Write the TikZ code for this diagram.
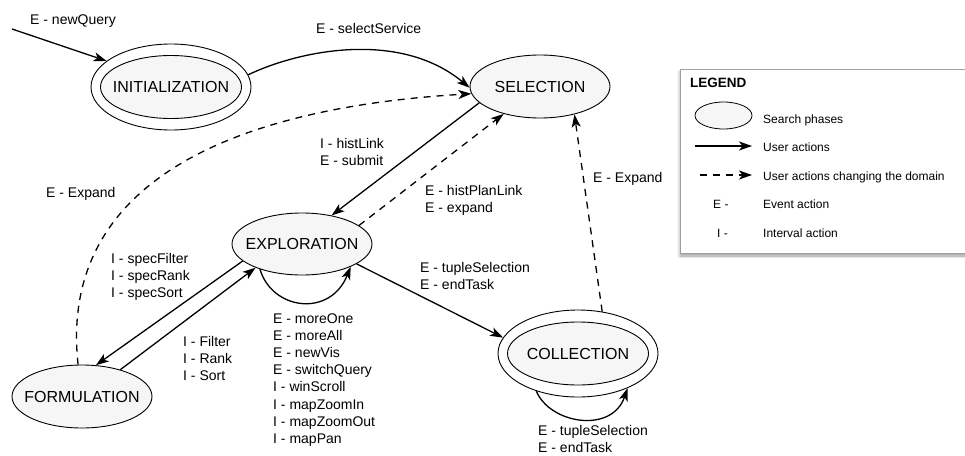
\documentclass[tikz,border=0pt]{standalone}
\usepackage{fontspec}
\setmainfont{Liberation Sans}
\usetikzlibrary{shapes.geometric,arrows.meta,shadows.blur}
\newcommand\mlines[1]{\begin{tabular}[t]{@{}l@{}}#1\end{tabular}}
\tikzset{
  phase/.style={ellipse, draw=black, line width=0.9pt, fill=gray!7, inner sep=0pt,
    font=\fontsize{16pt}{19pt}\selectfont},
  ring/.style={ellipse, draw=black, line width=0.9pt, fill=white, inner sep=0pt},
  act/.style={line width=1.3pt, -{Stealth[length=13pt,width=9pt,inset=3.5pt]}},
  domact/.style={act, dash pattern=on 7pt off 6pt},
  lbl/.style={anchor=base west, inner sep=0pt, font=\fontsize{14pt}{17.2pt}\selectfont},
  leg/.style={anchor=base west, inner sep=0pt, font=\fontsize{12pt}{14pt}\selectfont},
  legbox/.style={draw=gray!75, line width=0.8pt, fill=white,
    blur shadow={shadow xshift=0pt, shadow yshift=-3pt, shadow blur radius=3pt}},
}
\begin{document}
\begin{tikzpicture}[x=1pt,y=-1pt]
\useasboundingbox (0,0) rectangle (965,455);

% phases
\node[ring, minimum width=160pt, minimum height=86pt] (init) at (171,87) {};
\node[phase, minimum width=141pt, minimum height=63pt] (initin) at (171,87) {\makebox[0pt]{INITIALIZATION}};
\node[phase, minimum width=140pt, minimum height=63pt] (sel) at (540,86.5) {\makebox[0pt]{SELECTION}};
\node[phase, minimum width=140pt, minimum height=62pt] (explo) at (302,244) {\makebox[0pt]{EXPLORATION}};
\node[phase, minimum width=140pt, minimum height=63pt] (form) at (82,396.5) {\makebox[0pt]{FORMULATION}};
\node[ring, minimum width=160pt, minimum height=87pt] (coll) at (578,353.5) {};
\node[phase, minimum width=141pt, minimum height=63pt] (collin) at (578,353.5) {\makebox[0pt]{COLLECTION}};

% connectors
\coordinate (nqs) at (12,29);
\draw[act] (nqs) -- (init.158);
\draw[act] (init.9) .. controls (300,50) and (400,30) .. (sel.181);
\draw[domact] (form.97) .. controls (60,200) and (200,110) .. (sel.186);
\draw[act] (sel.195) -- (explo.44);
\draw[domact] (explo.18) -- (sel.217);
\draw[domact] (coll.60) -- (sel.321);
\draw[act] (explo.196) -- (form.66);
\draw[act] (form.35) -- (explo.207);
\draw[act] (explo.211) .. controls (272,310) and (330,318) .. (explo.335);
\draw[act] (explo.340) -- (coll.168);
\draw[act] (coll.222) .. controls (550,424) and (612,434) .. (coll.325);

% labels
\node[lbl] (lnq) at (30,24) {E - newQuery};
\node[lbl] (lss) at (316,33) {E - selectService};
\node[lbl] (lexp1) at (46,197) {E - Expand};
\node[lbl] (lhist) at (320,148) {\mlines{I - histLink\\E - submit}};
\node[lbl] (lhpl) at (425,195) {\mlines{E - histPlanLink\\E - expand}};
\node[lbl] (lexp2) at (593,182) {E - Expand};
\node[lbl] (lspec) at (111,263) {\mlines{I - specFilter\\I - specRank\\I - specSort}};
\node[lbl] (lfrs) at (183,346) {\mlines{I - Filter\\I - Rank\\I - Sort}};
\node[lbl] (lloop) at (273,323) {\mlines{E - moreOne\\E - moreAll\\E - newVis\\E - switchQuery\\I - winScroll\\I - mapZoomIn\\I - mapZoomOut\\I - mapPan}};
\node[lbl] (ltup) at (420,272) {\mlines{E - tupleSelection\\E - endTask}};
\node[lbl] (lcol) at (538,435) {\mlines{E - tupleSelection\\E - endTask}};

% legend
\node[legbox, minimum width=295pt, minimum height=184pt] (legend) at (827.5,161) {};
\node[anchor=base west, inner sep=0pt, font=\fontsize{13.5pt}{16pt}\selectfont\bfseries] (legt) at (690,87) {LEGEND};
\node[ellipse, draw=black, line width=0.8pt, fill=gray!7, inner sep=0pt, minimum width=57pt, minimum height=27pt] (legell) at (723.5,115.5) {};
\node[leg] (lg1) at (763,123) {Search phases};
\coordinate (la1) at (695,146);
\coordinate (la2) at (752,146);
\draw[act] (la1) -- (la2);
\node[leg] (lg2) at (763,151) {User actions};
\coordinate (lb1) at (700,175);
\coordinate (lb2) at (752,175);
\draw[domact] (lb1) -- (lb2);
\node[leg] (lg3) at (763,180) {User actions changing the domain};
\node[leg] (lg4a) at (713,208) {E -};
\node[leg] (lg4) at (763,208) {Event action};
\node[leg] (lg5a) at (717,237) {I -};
\node[leg] (lg5) at (763,237) {Interval action};
\end{tikzpicture}
\end{document}
